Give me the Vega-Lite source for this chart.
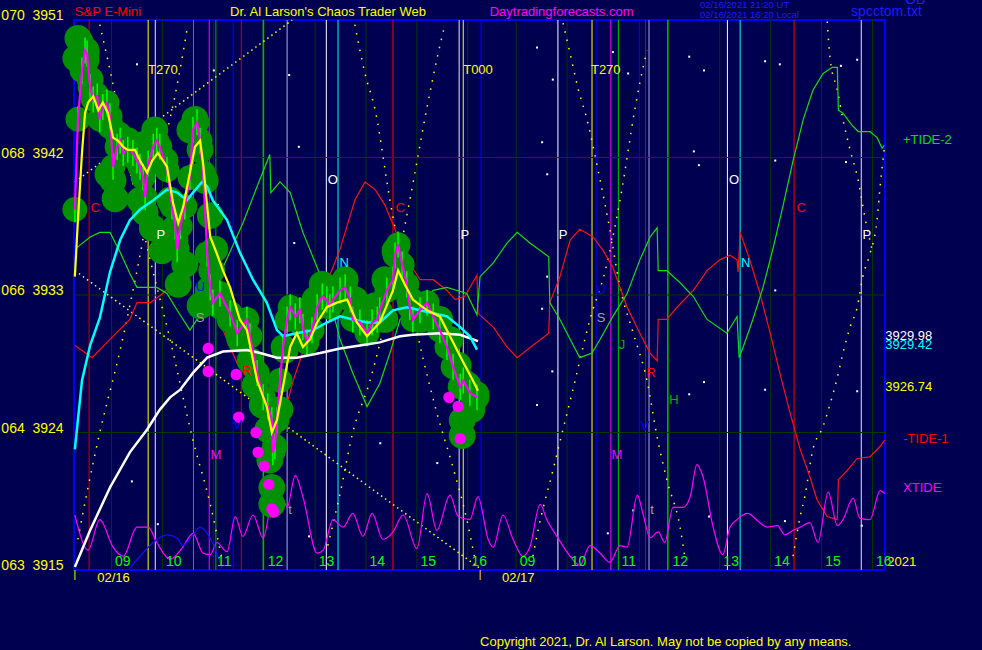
{
"$schema":"https://vega.github.io/schema/vega-lite/v6.json",
"width":811,"height":550,"autosize":{"type":"none"},
"padding":{"left":74,"top":20,"right":97,"bottom":80},
"background":"#000050",
"config":{"view":{"stroke":"#0000ff","strokeWidth":2},"font":"Liberation Sans"},
"datasets":{
"vlines":[{"t":9,"k":"hr"},{"t":10,"k":"hr"},{"t":11,"k":"hr"},{"t":12,"k":"hr"},{"t":13,"k":"hr"},{"t":14,"k":"hr"},{"t":15,"k":"hr"},{"t":16,"k":"hr"},{"t":16.95,"k":"hr"},{"t":17.95,"k":"hr"},{"t":18.95,"k":"hr"},{"t":19.95,"k":"hr"},{"t":20.95,"k":"hr"},{"t":21.95,"k":"hr"},{"t":22.95,"k":"hr"},{"t":23.95,"k":"hr"},
{"t":8.56,"k":"dkred"},{"t":9.72,"k":"yellow"},{"t":9.86,"k":"lav2"},{"t":10.61,"k":"ltblue"},{"t":10.92,"k":"magenta"},{"t":11.05,"k":"green"},{"t":11.39,"k":"blue"},{"t":11.55,"k":"dkred"},{"t":11.98,"k":"brgreen"},{"t":12.45,"k":"lav"},{"t":13.22,"k":"white"},{"t":13.45,"k":"cyan"},{"t":14.53,"k":"red"},{"t":15.83,"k":"lav2"},{"t":15.91,"k":"yellow"},{"t":16.26,"k":"blue"},{"t":17.77,"k":"white"},{"t":18.44,"k":"yellow"},{"t":18.52,"k":"blue"},{"t":18.81,"k":"magenta"},{"t":18.96,"k":"green"},{"t":19.37,"k":"blue"},{"t":19.49,"k":"dkred"},{"t":19.56,"k":"lav"},{"t":19.93,"k":"brgreen"},{"t":21.10,"k":"white"},{"t":21.35,"k":"cyan"},{"t":22.41,"k":"red"},{"t":23.73,"k":"lav2"}],
"hlines":[{"p":3942},{"p":3933},{"p":3924}],
"leftlab":[{"p":3951,"txt":"070\u00a0\u00a03951"},{"p":3942,"txt":"068\u00a0\u00a03942"},{"p":3933,"txt":"066\u00a0\u00a03933"},{"p":3924,"txt":"064\u00a0\u00a03924"},{"p":3915,"txt":"063\u00a0\u00a03915"}],
"diag":[{"id":"a","t":8.28,"p":3940.4},{"id":"a","t":12.55,"p":3951.0},{"id":"b","t":8.28,"p":3934.6},{"id":"b","t":16.24,"p":3915.1}],
"arcs":[
{"id":"c1","t":8.77,"p":3950.7},{"id":"c1","t":9.01,"p":3947.1},{"id":"c1","t":9.36,"p":3941.2},{"id":"c1","t":9.76,"p":3935.3},{"id":"c1","t":10.15,"p":3930.1},{"id":"c1","t":10.60,"p":3923.5},{"id":"c1","t":10.94,"p":3919.3},{"id":"c1","t":11.17,"p":3915.7},
{"id":"c2","t":10.50,"p":3950.7},{"id":"c2","t":10.31,"p":3947.1},{"id":"c2","t":10.05,"p":3943.1},{"id":"c2","t":9.76,"p":3939.2},{"id":"c2","t":9.56,"p":3935.6},{"id":"c2","t":9.17,"p":3929.4},{"id":"c2","t":8.77,"p":3924.0},{"id":"c2","t":8.52,"p":3920.1},{"id":"c2","t":8.34,"p":3917.0},
{"id":"c3","t":13.78,"p":3950.7},{"id":"c3","t":13.98,"p":3947.5},{"id":"c3","t":14.18,"p":3945.1},{"id":"c3","t":14.47,"p":3939.2},{"id":"c3","t":14.86,"p":3932.7},{"id":"c3","t":15.39,"p":3925.3},{"id":"c3","t":15.71,"p":3921.7},{"id":"c3","t":15.98,"p":3918.3},{"id":"c3","t":16.14,"p":3915.7},
{"id":"c4","t":15.55,"p":3950.7},{"id":"c4","t":15.39,"p":3948.4},{"id":"c4","t":15.20,"p":3945.3},{"id":"c4","t":14.86,"p":3939.2},{"id":"c4","t":14.47,"p":3932.7},{"id":"c4","t":14.08,"p":3927.4},{"id":"c4","t":13.74,"p":3924.0},{"id":"c4","t":13.49,"p":3920.0},{"id":"c4","t":13.25,"p":3916.6},
{"id":"c5","t":17.87,"p":3950.8},{"id":"c5","t":18.01,"p":3948.8},{"id":"c5","t":18.16,"p":3946.6},{"id":"c5","t":18.34,"p":3944.5},{"id":"c5","t":18.60,"p":3940.5},{"id":"c5","t":18.79,"p":3937.3},{"id":"c5","t":18.99,"p":3933.5},{"id":"c5","t":19.25,"p":3930.5},{"id":"c5","t":19.52,"p":3927.4},{"id":"c5","t":19.72,"p":3923.7},{"id":"c5","t":19.91,"p":3920.9},{"id":"c5","t":20.17,"p":3917.8},{"id":"c5","t":20.27,"p":3915.7},
{"id":"c6","t":19.52,"p":3949.0},{"id":"c6","t":19.38,"p":3946.9},{"id":"c6","t":19.29,"p":3945.3},{"id":"c6","t":18.99,"p":3939.2},{"id":"c6","t":18.70,"p":3934.6},{"id":"c6","t":18.40,"p":3931.4},{"id":"c6","t":18.05,"p":3926.6},{"id":"c6","t":17.87,"p":3924.2},{"id":"c6","t":17.67,"p":3921.5},{"id":"c6","t":17.38,"p":3917.6},{"id":"c6","t":17.28,"p":3915.9},
{"id":"c7","t":24.19,"p":3942.8},{"id":"c7","t":24.10,"p":3940.1},{"id":"c7","t":24.04,"p":3937.9},{"id":"c7","t":23.90,"p":3935.7},{"id":"c7","t":23.76,"p":3934.2},{"id":"c7","t":23.65,"p":3932.2},{"id":"c7","t":23.51,"p":3930.9},{"id":"c7","t":23.37,"p":3929.2},{"id":"c7","t":23.26,"p":3927.6},{"id":"c7","t":23.12,"p":3925.9},{"id":"c7","t":22.98,"p":3924.4},{"id":"c7","t":22.78,"p":3922.9},{"id":"c7","t":22.62,"p":3919.8},{"id":"c7","t":22.53,"p":3918.5},{"id":"c7","t":22.39,"p":3915.9},
{"id":"c8","t":23.06,"p":3950.9},{"id":"c8","t":23.12,"p":3948.4},{"id":"c8","t":23.26,"p":3946.4},{"id":"c8","t":23.37,"p":3944.5},{"id":"c8","t":23.51,"p":3942.5},{"id":"c8","t":23.67,"p":3940.5},{"id":"c8","t":23.80,"p":3938.1},{"id":"c8","t":23.94,"p":3936.0}],
"red":[{"t":8.28,"p":3929.7},{"t":8.62,"p":3928.9},{"t":8.97,"p":3930.1},{"t":9.36,"p":3931.4},{"t":9.50,"p":3932.5},{"t":9.76,"p":3932.5},{"t":10.01,"p":3933.1},{"t":10.29,"p":3934.0},{"t":10.54,"p":3934.8},{"t":10.70,"p":3935.8},{"t":10.80,"p":3935.7},{"t":10.94,"p":3934.4},{"t":11.07,"p":3933.3},{"t":11.19,"p":3930.7},{"t":11.47,"p":3928.5},{"t":11.66,"p":3927.6},{"t":11.92,"p":3926.8},{"t":12.17,"p":3925.9},{"t":12.31,"p":3925.6},{"t":12.45,"p":3925.9},{"t":12.57,"p":3927.4},{"t":12.70,"p":3928.7},{"t":12.84,"p":3930.1},{"t":12.96,"p":3931.4},{"t":13.10,"p":3932.7},{"t":13.23,"p":3933.8},{"t":13.49,"p":3936.0},{"t":13.78,"p":3939.2},{"t":13.98,"p":3940.4},{"t":14.18,"p":3939.9},{"t":14.37,"p":3938.9},{"t":14.57,"p":3937.3},{"t":14.76,"p":3935.6},{"t":15.06,"p":3934.0},{"t":15.32,"p":3934.0},{"t":15.59,"p":3933.3},{"t":15.75,"p":3932.7},{"t":15.94,"p":3932.9},{"t":16.18,"p":3934.3},{"t":16.20,"p":3931.8},{"t":16.50,"p":3930.9},{"t":16.77,"p":3929.6},{"t":16.97,"p":3928.9},{"t":17.16,"p":3929.4},{"t":17.59,"p":3930.5},{"t":17.61,"p":3932.5},{"t":17.81,"p":3934.2},{"t":18.01,"p":3936.6},{"t":18.20,"p":3937.3},{"t":18.46,"p":3936.8},{"t":18.66,"p":3935.9},{"t":18.85,"p":3934.8},{"t":19.13,"p":3932.2},{"t":19.38,"p":3930.5},{"t":19.58,"p":3929.2},{"t":19.72,"p":3928.7},{"t":19.74,"p":3931.4},{"t":19.91,"p":3931.4},{"t":20.11,"p":3932.2},{"t":20.43,"p":3933.3},{"t":20.70,"p":3934.6},{"t":20.95,"p":3935.3},{"t":21.15,"p":3935.6},{"t":21.29,"p":3935.3},{"t":21.31,"p":3934.5},{"t":21.35,"p":3937.1},{"t":21.54,"p":3935.3},{"t":21.74,"p":3933.1},{"t":21.94,"p":3930.5},{"t":22.13,"p":3927.9},{"t":22.33,"p":3925.3},{"t":22.53,"p":3922.9},{"t":22.72,"p":3921.1},{"t":22.86,"p":3919.6},{"t":23.06,"p":3918.5},{"t":23.26,"p":3918.3},{"t":23.28,"p":3920.9},{"t":23.45,"p":3921.5},{"t":23.65,"p":3922.3},{"t":23.90,"p":3922.4},{"t":24.10,"p":3923.1},{"t":24.19,"p":3923.5}],
"green":[{"t":8.32,"p":3936.1},{"t":8.58,"p":3936.8},{"t":8.77,"p":3937.1},{"t":8.97,"p":3937.1},{"t":9.17,"p":3935.8},{"t":9.36,"p":3934.4},{"t":9.50,"p":3933.5},{"t":9.70,"p":3933.5},{"t":9.89,"p":3933.5},{"t":10.09,"p":3933.1},{"t":10.29,"p":3932.0},{"t":10.54,"p":3930.7},{"t":10.74,"p":3931.7},{"t":10.99,"p":3933.5},{"t":11.19,"p":3934.8},{"t":11.58,"p":3937.7},{"t":11.86,"p":3940.1},{"t":12.11,"p":3942.2},{"t":12.13,"p":3939.7},{"t":12.31,"p":3940.4},{"t":12.51,"p":3939.7},{"t":12.76,"p":3937.1},{"t":13.04,"p":3934.8},{"t":13.29,"p":3932.7},{"t":13.49,"p":3930.1},{"t":13.74,"p":3927.9},{"t":14.02,"p":3925.7},{"t":14.27,"p":3927.2},{"t":14.47,"p":3929.2},{"t":14.67,"p":3931.4},{"t":14.92,"p":3932.2},{"t":15.32,"p":3933.3},{"t":15.59,"p":3933.5},{"t":15.98,"p":3933.1},{"t":16.18,"p":3931.7},{"t":16.24,"p":3934.2},{"t":16.50,"p":3935.1},{"t":16.77,"p":3936.4},{"t":16.97,"p":3937.1},{"t":17.22,"p":3936.4},{"t":17.59,"p":3935.5},{"t":17.61,"p":3932.5},{"t":17.81,"p":3931.4},{"t":18.01,"p":3930.1},{"t":18.20,"p":3928.9},{"t":18.44,"p":3929.2},{"t":18.60,"p":3930.1},{"t":18.85,"p":3931.6},{"t":19.13,"p":3933.1},{"t":19.38,"p":3935.3},{"t":19.58,"p":3936.8},{"t":19.72,"p":3937.4},{"t":19.74,"p":3934.6},{"t":19.91,"p":3934.6},{"t":20.17,"p":3933.8},{"t":20.43,"p":3932.9},{"t":20.70,"p":3931.4},{"t":21.09,"p":3930.5},{"t":21.29,"p":3931.6},{"t":21.33,"p":3928.9},{"t":21.41,"p":3929.6},{"t":21.60,"p":3931.4},{"t":21.80,"p":3933.5},{"t":22.00,"p":3936.1},{"t":22.19,"p":3938.8},{"t":22.39,"p":3941.8},{"t":22.59,"p":3944.5},{"t":22.78,"p":3946.4},{"t":22.98,"p":3947.5},{"t":23.16,"p":3947.9},{"t":23.26,"p":3947.9},{"t":23.27,"p":3946.4},{"t":23.28,"p":3945.1},{"t":23.37,"p":3944.9},{"t":23.55,"p":3944.1},{"t":23.67,"p":3943.7},{"t":23.90,"p":3943.7},{"t":24.04,"p":3943.3},{"t":24.14,"p":3942.6},{"t":24.18,"p":3942.8}],
"xtide":[{"t":8.28,"p":3918.6},{"t":8.54,"p":3916.3},{"t":8.77,"p":3918.3},{"t":9.03,"p":3916.5},{"t":9.23,"p":3915.9},{"t":9.50,"p":3917.8},{"t":9.72,"p":3917.8},{"t":9.89,"p":3916.8},{"t":10.15,"p":3915.7},{"t":10.40,"p":3916.5},{"t":10.60,"p":3917.4},{"t":10.80,"p":3916.1},{"t":10.94,"p":3916.0},{"t":11.07,"p":3916.8},{"t":11.27,"p":3916.2},{"t":11.43,"p":3918.5},{"t":11.58,"p":3917.2},{"t":11.78,"p":3918.6},{"t":11.98,"p":3917.1},{"t":12.17,"p":3919.7},{"t":12.37,"p":3919.6},{"t":12.45,"p":3919.1},{"t":12.61,"p":3921.2},{"t":12.76,"p":3919.8},{"t":13.04,"p":3916.1},{"t":13.16,"p":3916.3},{"t":13.35,"p":3918.3},{"t":13.55,"p":3917.8},{"t":13.74,"p":3918.7},{"t":13.94,"p":3917.2},{"t":14.12,"p":3918.7},{"t":14.33,"p":3917.0},{"t":14.53,"p":3917.5},{"t":14.73,"p":3918.6},{"t":15.00,"p":3916.4},{"t":15.20,"p":3920.0},{"t":15.39,"p":3917.6},{"t":15.65,"p":3919.9},{"t":15.81,"p":3918.5},{"t":16.04,"p":3918.3},{"t":16.20,"p":3919.8},{"t":16.40,"p":3917.0},{"t":16.50,"p":3916.5},{"t":16.69,"p":3918.6},{"t":16.89,"p":3917.0},{"t":17.08,"p":3915.9},{"t":17.22,"p":3916.5},{"t":17.42,"p":3919.3},{"t":17.55,"p":3918.3},{"t":17.75,"p":3917.2},{"t":18.01,"p":3915.9},{"t":18.20,"p":3915.3},{"t":18.40,"p":3916.6},{"t":18.60,"p":3916.1},{"t":18.79,"p":3915.5},{"t":18.99,"p":3916.6},{"t":19.13,"p":3916.5},{"t":19.33,"p":3919.9},{"t":19.44,"p":3918.7},{"t":19.58,"p":3917.1},{"t":19.74,"p":3917.5},{"t":19.87,"p":3916.8},{"t":20.03,"p":3919.1},{"t":20.23,"p":3919.1},{"t":20.37,"p":3919.8},{"t":20.50,"p":3921.9},{"t":20.62,"p":3921.1},{"t":20.82,"p":3917.8},{"t":21.01,"p":3916.0},{"t":21.15,"p":3917.8},{"t":21.29,"p":3918.3},{"t":21.49,"p":3918.7},{"t":21.74,"p":3918.1},{"t":21.88,"p":3917.8},{"t":22.08,"p":3917.9},{"t":22.23,"p":3917.3},{"t":22.39,"p":3917.6},{"t":22.53,"p":3917.8},{"t":22.72,"p":3918.1},{"t":22.88,"p":3916.8},{"t":23.08,"p":3920.1},{"t":23.26,"p":3917.9},{"t":23.37,"p":3918.3},{"t":23.57,"p":3919.7},{"t":23.70,"p":3918.4},{"t":23.90,"p":3918.3},{"t":24.10,"p":3920.2},{"t":24.19,"p":3920.0}],
"blue":[{"t":9.36,"p":3915.1},{"t":9.56,"p":3915.9},{"t":9.82,"p":3916.8},{"t":10.09,"p":3917.3},{"t":10.29,"p":3917.1},{"t":10.40,"p":3916.6},{"t":10.60,"p":3917.3},{"t":10.74,"p":3917.8},{"t":10.88,"p":3917.4},{"t":11.07,"p":3916.1},{"t":11.17,"p":3915.1}],
"blobs":[{"t":8.34,"p":3949.8},{"t":8.50,"p":3949.0},{"t":8.30,"p":3948.5},{"t":8.38,"p":3949.6},{"t":8.50,"p":3948.4},{"t":8.58,"p":3947.1},{"t":8.68,"p":3946.1},{"t":8.83,"p":3945.1},{"t":8.97,"p":3944.1},{"t":9.03,"p":3940.5},{"t":8.93,"p":3940.9},{"t":9.07,"p":3939.3},{"t":9.13,"p":3943.5},{"t":9.32,"p":3943.1},{"t":9.56,"p":3942.8},{"t":9.56,"p":3939.2},{"t":9.66,"p":3938.4},{"t":9.80,"p":3937.4},{"t":9.99,"p":3935.9},{"t":9.76,"p":3943.1},{"t":9.85,"p":3943.8},{"t":10.05,"p":3941.8},{"t":10.15,"p":3939.2},{"t":10.25,"p":3936.6},{"t":10.44,"p":3935.0},{"t":10.31,"p":3933.7},{"t":10.54,"p":3943.8},{"t":10.64,"p":3944.5},{"t":10.74,"p":3942.5},{"t":10.84,"p":3940.5},{"t":10.94,"p":3938.2},{"t":11.03,"p":3936.0},{"t":10.97,"p":3934.6},{"t":10.74,"p":3932.3},{"t":10.90,"p":3933.3},{"t":11.13,"p":3932.3},{"t":11.33,"p":3931.4},{"t":11.52,"p":3930.1},{"t":11.72,"p":3928.7},{"t":11.82,"p":3927.1},{"t":11.96,"p":3925.8},{"t":12.07,"p":3924.2},{"t":12.11,"p":3922.2},{"t":12.15,"p":3920.4},{"t":12.15,"p":3919.3},{"t":12.31,"p":3925.5},{"t":12.41,"p":3929.4},{"t":12.57,"p":3931.7},{"t":12.80,"p":3931.4},{"t":13.00,"p":3932.7},{"t":13.14,"p":3933.7},{"t":13.33,"p":3932.7},{"t":13.59,"p":3934.0},{"t":13.78,"p":3932.7},{"t":13.98,"p":3931.4},{"t":14.18,"p":3932.3},{"t":14.37,"p":3934.0},{"t":14.37,"p":3931.4},{"t":14.57,"p":3935.9},{"t":14.67,"p":3934.3},{"t":14.86,"p":3932.7},{"t":15.06,"p":3931.4},{"t":15.16,"p":3932.3},{"t":15.45,"p":3931.4},{"t":15.65,"p":3930.1},{"t":15.81,"p":3928.4},{"t":16.00,"p":3927.1},{"t":16.16,"p":3926.5},{"t":16.08,"p":3925.5},{"t":15.89,"p":3924.8},{"t":15.89,"p":3923.8}],
"price":[{"t":8.28,"p":3938.6},{"t":8.34,"p":3944.5},{"t":8.42,"p":3947.7},{"t":8.48,"p":3949.0},{"t":8.52,"p":3948.8},{"t":8.58,"p":3946.6},{"t":8.64,"p":3945.8},{"t":8.72,"p":3946.0},{"t":8.77,"p":3944.5},{"t":8.83,"p":3945.3},{"t":8.91,"p":3945.6},{"t":8.97,"p":3944.7},{"t":9.03,"p":3941.4},{"t":9.11,"p":3942.7},{"t":9.17,"p":3943.1},{"t":9.23,"p":3942.3},{"t":9.32,"p":3942.5},{"t":9.42,"p":3942.3},{"t":9.50,"p":3941.8},{"t":9.56,"p":3941.4},{"t":9.62,"p":3940.7},{"t":9.66,"p":3939.4},{"t":9.72,"p":3941.6},{"t":9.82,"p":3942.7},{"t":9.89,"p":3943.1},{"t":9.95,"p":3942.7},{"t":10.09,"p":3941.2},{"t":10.19,"p":3938.8},{"t":10.25,"p":3937.5},{"t":10.29,"p":3936.0},{"t":10.35,"p":3937.5},{"t":10.44,"p":3938.8},{"t":10.54,"p":3940.7},{"t":10.60,"p":3943.8},{"t":10.68,"p":3944.3},{"t":10.74,"p":3943.1},{"t":10.80,"p":3941.0},{"t":10.88,"p":3935.7},{"t":10.94,"p":3933.5},{"t":10.99,"p":3932.5},{"t":11.13,"p":3933.1},{"t":11.33,"p":3931.8},{"t":11.47,"p":3930.5},{"t":11.66,"p":3931.4},{"t":11.72,"p":3930.3},{"t":11.86,"p":3927.9},{"t":11.98,"p":3926.3},{"t":12.07,"p":3925.7},{"t":12.15,"p":3924.8},{"t":12.17,"p":3922.7},{"t":12.21,"p":3923.1},{"t":12.25,"p":3924.8},{"t":12.31,"p":3927.4},{"t":12.37,"p":3929.6},{"t":12.45,"p":3931.4},{"t":12.51,"p":3932.2},{"t":12.61,"p":3931.6},{"t":12.70,"p":3932.0},{"t":12.76,"p":3930.9},{"t":12.84,"p":3929.9},{"t":12.94,"p":3930.7},{"t":13.04,"p":3932.2},{"t":13.14,"p":3932.9},{"t":13.23,"p":3932.7},{"t":13.29,"p":3932.2},{"t":13.35,"p":3932.7},{"t":13.49,"p":3933.3},{"t":13.59,"p":3933.5},{"t":13.69,"p":3932.7},{"t":13.74,"p":3931.4},{"t":13.88,"p":3931.2},{"t":14.02,"p":3930.5},{"t":14.12,"p":3931.2},{"t":14.22,"p":3931.4},{"t":14.27,"p":3932.0},{"t":14.41,"p":3933.3},{"t":14.53,"p":3934.0},{"t":14.57,"p":3935.6},{"t":14.63,"p":3936.3},{"t":14.71,"p":3935.0},{"t":14.80,"p":3933.7},{"t":14.86,"p":3932.2},{"t":14.92,"p":3931.4},{"t":15.06,"p":3932.0},{"t":15.20,"p":3932.5},{"t":15.32,"p":3931.6},{"t":15.45,"p":3930.7},{"t":15.59,"p":3929.6},{"t":15.71,"p":3928.3},{"t":15.85,"p":3927.0},{"t":15.91,"p":3927.4},{"t":16.04,"p":3926.6},{"t":16.18,"p":3926.3}],
"yel":[{"t":8.28,"p":3934.2},{"t":8.34,"p":3937.9},{"t":8.42,"p":3942.3},{"t":8.48,"p":3944.9},{"t":8.54,"p":3945.6},{"t":8.64,"p":3946.0},{"t":8.74,"p":3945.1},{"t":8.83,"p":3945.6},{"t":8.93,"p":3944.9},{"t":9.03,"p":3943.3},{"t":9.13,"p":3943.1},{"t":9.23,"p":3942.7},{"t":9.32,"p":3942.5},{"t":9.46,"p":3942.5},{"t":9.56,"p":3941.8},{"t":9.70,"p":3941.0},{"t":9.80,"p":3941.8},{"t":9.91,"p":3942.3},{"t":10.09,"p":3941.4},{"t":10.21,"p":3939.0},{"t":10.31,"p":3937.7},{"t":10.41,"p":3938.8},{"t":10.54,"p":3941.0},{"t":10.64,"p":3942.7},{"t":10.74,"p":3943.1},{"t":10.80,"p":3941.6},{"t":10.88,"p":3938.8},{"t":10.94,"p":3936.8},{"t":11.07,"p":3935.7},{"t":11.19,"p":3934.6},{"t":11.33,"p":3933.5},{"t":11.52,"p":3931.4},{"t":11.66,"p":3930.7},{"t":11.86,"p":3927.4},{"t":12.05,"p":3925.7},{"t":12.15,"p":3924.0},{"t":12.25,"p":3924.8},{"t":12.37,"p":3927.0},{"t":12.51,"p":3929.6},{"t":12.64,"p":3930.5},{"t":12.76,"p":3929.6},{"t":12.90,"p":3930.1},{"t":13.04,"p":3931.2},{"t":13.23,"p":3932.2},{"t":13.43,"p":3932.5},{"t":13.63,"p":3932.7},{"t":13.82,"p":3931.2},{"t":14.02,"p":3930.3},{"t":14.27,"p":3931.2},{"t":14.53,"p":3933.3},{"t":14.63,"p":3934.6},{"t":14.76,"p":3933.7},{"t":14.92,"p":3932.7},{"t":15.20,"p":3932.0},{"t":15.45,"p":3931.6},{"t":15.71,"p":3929.9},{"t":15.91,"p":3928.6},{"t":16.10,"p":3927.4},{"t":16.20,"p":3926.74}],
"cyan":[{"t":8.28,"p":3922.9},{"t":8.42,"p":3927.4},{"t":8.58,"p":3929.7},{"t":8.77,"p":3931.5},{"t":8.97,"p":3934.5},{"t":9.17,"p":3936.6},{"t":9.36,"p":3937.9},{"t":9.56,"p":3938.6},{"t":9.82,"p":3939.2},{"t":10.09,"p":3939.9},{"t":10.29,"p":3939.7},{"t":10.48,"p":3939.2},{"t":10.60,"p":3939.7},{"t":10.78,"p":3940.4},{"t":10.88,"p":3940.1},{"t":10.99,"p":3939.2},{"t":11.27,"p":3937.9},{"t":11.52,"p":3935.8},{"t":11.78,"p":3934.0},{"t":12.05,"p":3932.5},{"t":12.25,"p":3930.7},{"t":12.37,"p":3930.3},{"t":12.64,"p":3930.5},{"t":12.96,"p":3930.7},{"t":13.23,"p":3931.2},{"t":13.49,"p":3931.6},{"t":13.74,"p":3931.4},{"t":14.02,"p":3931.2},{"t":14.27,"p":3931.2},{"t":14.53,"p":3932.0},{"t":14.80,"p":3932.2},{"t":15.06,"p":3932.0},{"t":15.32,"p":3931.8},{"t":15.59,"p":3931.6},{"t":15.85,"p":3930.9},{"t":16.04,"p":3930.3},{"t":16.18,"p":3929.42}],
"white":[{"t":8.28,"p":3915.2},{"t":8.58,"p":3917.6},{"t":8.97,"p":3920.4},{"t":9.36,"p":3922.7},{"t":9.70,"p":3924.2},{"t":9.95,"p":3925.5},{"t":10.15,"p":3926.3},{"t":10.35,"p":3926.8},{"t":10.60,"p":3927.9},{"t":10.88,"p":3928.9},{"t":11.19,"p":3929.3},{"t":11.66,"p":3929.4},{"t":11.92,"p":3929.2},{"t":12.25,"p":3928.9},{"t":12.64,"p":3928.9},{"t":13.10,"p":3929.2},{"t":13.49,"p":3929.5},{"t":13.88,"p":3929.7},{"t":14.27,"p":3929.9},{"t":14.67,"p":3930.3},{"t":14.92,"p":3930.4},{"t":15.45,"p":3930.5},{"t":15.85,"p":3930.4},{"t":16.20,"p":3929.98}],
"mdots":[{"t":10.90,"p":3929.5},{"t":10.90,"p":3928.0},{"t":11.45,"p":3927.8},{"t":11.50,"p":3925.0},{"t":11.84,"p":3924.0},{"t":11.88,"p":3922.7},{"t":12.00,"p":3921.8},{"t":12.09,"p":3920.6},{"t":12.15,"p":3919.0},{"t":12.19,"p":3918.8},{"t":15.63,"p":3926.3},{"t":15.81,"p":3925.7},{"t":15.85,"p":3923.6}],
"wdots":[{"t":9.50,"p":3948.1},{"t":11.01,"p":3947.7},{"t":12.49,"p":3947.4},{"t":12.68,"p":3942.7},{"t":11.09,"p":3938.9},{"t":12.59,"p":3936.4},{"t":17.36,"p":3949.2},{"t":17.67,"p":3947.1},{"t":18.85,"p":3948.9},{"t":19.15,"p":3947.5},{"t":20.35,"p":3948.6},{"t":20.64,"p":3947.7},{"t":21.84,"p":3948.3},{"t":22.13,"p":3948.1},{"t":23.33,"p":3948.0},{"t":23.65,"p":3948.4},{"t":20.44,"p":3942.4},{"t":20.54,"p":3941.5},{"t":22.04,"p":3941.8},{"t":23.43,"p":3941.7},{"t":17.46,"p":3943.0},{"t":17.56,"p":3940.9},{"t":17.56,"p":3934.2},{"t":17.46,"p":3932.1},{"t":17.66,"p":3928.0},{"t":17.36,"p":3925.8},{"t":20.35,"p":3926.5},{"t":20.64,"p":3927.3},{"t":21.84,"p":3926.8},{"t":22.04,"p":3933.3},{"t":23.65,"p":3926.7},{"t":14.28,"p":3923.3},{"t":15.40,"p":3922.0},{"t":9.40,"p":3920.8},{"t":9.91,"p":3918.0},{"t":12.88,"p":3917.2},{"t":18.75,"p":3917.4},{"t":20.74,"p":3918.5},{"t":22.23,"p":3918.2},{"t":23.74,"p":3917.9},{"t":19.25,"p":3918.9}],
"letters":[{"t":10.01,"p":3947.7,"txt":"T270","k":"yellow"},{"t":16.20,"p":3947.7,"txt":"T000","k":"yellow"},{"t":18.71,"p":3947.7,"txt":"T270","k":"yellow"},{"t":8.68,"p":3938.7,"txt":"C","k":"red"},{"t":14.67,"p":3938.7,"txt":"C","k":"red"},{"t":22.55,"p":3938.7,"txt":"C","k":"red"},{"t":9.97,"p":3936.9,"txt":"P","k":"white"},{"t":15.94,"p":3936.9,"txt":"P","k":"white"},{"t":17.87,"p":3936.9,"txt":"P","k":"white"},{"t":23.84,"p":3936.9,"txt":"P","k":"white"},{"t":13.35,"p":3940.5,"txt":"O","k":"white"},{"t":21.23,"p":3940.5,"txt":"O","k":"white"},{"t":10.74,"p":3933.5,"txt":"U","k":"blue"},{"t":18.62,"p":3933.3,"txt":"U","k":"blue"},{"t":10.74,"p":3931.5,"txt":"S","k":"grey"},{"t":18.62,"p":3931.5,"txt":"S","k":"grey"},{"t":11.05,"p":3922.5,"txt":"M","k":"magenta"},{"t":18.93,"p":3922.5,"txt":"M","k":"magenta"},{"t":11.66,"p":3928.0,"txt":"R","k":"red"},{"t":19.60,"p":3927.9,"txt":"R","k":"red"},{"t":11.47,"p":3924.5,"txt":"V","k":"blue"},{"t":19.48,"p":3924.4,"txt":"V","k":"blue"},{"t":12.51,"p":3918.9,"txt":"t","k":"grey"},{"t":19.62,"p":3918.9,"txt":"t","k":"grey"},{"t":13.57,"p":3935.1,"txt":"N","k":"cyan"},{"t":21.46,"p":3935.1,"txt":"N","k":"cyan"},{"t":19.03,"p":3929.7,"txt":"J","k":"green"},{"t":20.05,"p":3926.1,"txt":"H","k":"green"}],
"sidetext":[{"t":24.55,"p":3943.15,"txt":"+TIDE-2","k":"txtgreen"},{"t":24.20,"p":3930.3,"txt":"3929.98","k":"white"},{"t":24.20,"p":3929.7,"txt":"3929.42","k":"cyan"},{"t":24.20,"p":3927.0,"txt":"3926.74","k":"yellow"},{"t":24.55,"p":3923.6,"txt":"-TIDE-1","k":"red"},{"t":24.55,"p":3920.4,"txt":"XTIDE","k":"magenta"},{"t":24.24,"p":3915.5,"txt":"2021","k":"yellow"},
{"t":8.28,"p":3951.52,"txt":"S&P E-Mini","k":"red"},{"t":11.33,"p":3951.52,"txt":"Dr. Al Larson's Chaos Trader Web","k":"yellow"},{"t":16.43,"p":3951.52,"txt":"Daytradingforecasts.com","k":"magenta"},{"t":16.24,"p":3910.3,"txt":"Copyright 2021, Dr. Al Larson. May not be copied by any means.","k":"yellow"},{"t":8.72,"p":3914.5,"txt":"02/16","k":"yellow"},{"t":16.67,"p":3914.5,"txt":"02/17","k":"yellow"}],
"bluetext":[{"t":23.53,"p":3951.52,"txt":"spcctom.txt"},{"t":24.59,"p":3952.3,"txt":"OB"}],
"smalltext":[{"t":20.56,"p":3951.98,"txt":"02/16/2021 21:20 UT"},{"t":20.56,"p":3951.33,"txt":"02/16/2021 16:20 Local"}],
"hours":[{"t":9.07,"txt":"09"},{"t":10.07,"txt":"10"},{"t":11.07,"txt":"11"},{"t":12.07,"txt":"12"},{"t":13.07,"txt":"13"},{"t":14.07,"txt":"14"},{"t":15.07,"txt":"15"},{"t":16.07,"txt":"16"},{"t":17.02,"txt":"09"},{"t":18.02,"txt":"10"},{"t":19.02,"txt":"11"},{"t":20.02,"txt":"12"},{"t":21.02,"txt":"13"},{"t":22.02,"txt":"14"},{"t":23.02,"txt":"15"},{"t":24.02,"txt":"16"}],
"dayticks":[{"t":8.28},{"t":16.24}]
},
"layer":[
{"data":{"name":"vlines"},"mark":{"type":"rule","strokeWidth":1},"encoding":{"x":{"field":"t","type":"quantitative","scale":{"domain":[8.263,24.196],"nice":false,"zero":false},"axis":null},"color":{"field":"k","type":"nominal","legend":null,"scale":{"domain":["hr","yellow","white","lav","lav2","ltblue","magenta","green","brgreen","blue","red","cyan","grey","dkred","txtgreen"],"range":["#003800","#ffff00","#ffffff","#a8a8e0","#e0e0ff","#6060ff","#ff00ff","#00b000","#00ff00","#0000ff","#ff0000","#00ffff","#a0a0a0","#c80000","#00e000"]}}}},
{"data":{"name":"hlines"},"mark":{"type":"rule","color":"#003800"},"encoding":{"y":{"field":"p","type":"quantitative","title":null,"scale":{"domain":[3915,3951],"nice":false,"zero":false},"axis":null}}},
{"data":{"name":"leftlab"},"mark":{"type":"text","font":"Liberation Sans","fontSize":14,"align":"right","baseline":"alphabetic","color":"#ffff00"},"encoding":{"x":{"datum":8.06,"type":"quantitative","scale":{"domain":[8.263,24.196],"nice":false,"zero":false},"axis":null},"y":{"field":"p","type":"quantitative","title":null,"scale":{"domain":[3915,3951],"nice":false,"zero":false},"axis":null},"text":{"field":"txt"}}},
{"data":{"name":"diag"},"mark":{"type":"line","color":"#ffff00","strokeWidth":1.5,"strokeDash":[1.5,3.5]},"encoding":{"x":{"field":"t","type":"quantitative","scale":{"domain":[8.263,24.196],"nice":false,"zero":false},"axis":null},"y":{"field":"p","type":"quantitative","title":null,"scale":{"domain":[3915,3951],"nice":false,"zero":false},"axis":null},"detail":{"field":"id"}}},
{"data":{"name":"arcs"},"mark":{"type":"line","color":"#ffff00","strokeWidth":1.5,"strokeDash":[1.5,7],"interpolate":"monotone"},"encoding":{"x":{"field":"t","type":"quantitative","scale":{"domain":[8.263,24.196],"nice":false,"zero":false},"axis":null},"y":{"field":"p","type":"quantitative","title":null,"scale":{"domain":[3915,3951],"nice":false,"zero":false},"axis":null},"detail":{"field":"id"}}},
{"data":{"name":"wdots"},"mark":{"type":"square","color":"#ffffff","size":4,"opacity":1},"encoding":{"x":{"field":"t","type":"quantitative","scale":{"domain":[8.263,24.196],"nice":false,"zero":false},"axis":null},"y":{"field":"p","type":"quantitative","title":null,"scale":{"domain":[3915,3951],"nice":false,"zero":false},"axis":null}}},
{"data":{"name":"red"},"mark":{"type":"line","color":"#ff1010","strokeWidth":1.2},"encoding":{"x":{"field":"t","type":"quantitative","scale":{"domain":[8.263,24.196],"nice":false,"zero":false},"axis":null},"y":{"field":"p","type":"quantitative","title":null,"scale":{"domain":[3915,3951],"nice":false,"zero":false},"axis":null}}},
{"data":{"name":"green"},"mark":{"type":"line","color":"#10e010","strokeWidth":1.2},"encoding":{"x":{"field":"t","type":"quantitative","scale":{"domain":[8.263,24.196],"nice":false,"zero":false},"axis":null},"y":{"field":"p","type":"quantitative","title":null,"scale":{"domain":[3915,3951],"nice":false,"zero":false},"axis":null}}},
{"data":{"name":"xtide"},"mark":{"type":"line","color":"#ff00ff","strokeWidth":1.2,"interpolate":"monotone"},"encoding":{"x":{"field":"t","type":"quantitative","scale":{"domain":[8.263,24.196],"nice":false,"zero":false},"axis":null},"y":{"field":"p","type":"quantitative","title":null,"scale":{"domain":[3915,3951],"nice":false,"zero":false},"axis":null}}},
{"data":{"name":"blue"},"mark":{"type":"line","color":"#1010ff","strokeWidth":1.2,"interpolate":"monotone"},"encoding":{"x":{"field":"t","type":"quantitative","scale":{"domain":[8.263,24.196],"nice":false,"zero":false},"axis":null},"y":{"field":"p","type":"quantitative","title":null,"scale":{"domain":[3915,3951],"nice":false,"zero":false},"axis":null}}},
{"data":{"name":"blobs"},"mark":{"type":"circle","color":"#009000","size":720,"opacity":1},"encoding":{"x":{"field":"t","type":"quantitative","scale":{"domain":[8.263,24.196],"nice":false,"zero":false},"axis":null},"y":{"field":"p","type":"quantitative","title":null,"scale":{"domain":[3915,3951],"nice":false,"zero":false},"axis":null}}},
{"data":{"name":"price"},"mark":{"type":"circle","color":"#009000","size":620,"opacity":1},"encoding":{"x":{"field":"t","type":"quantitative","scale":{"domain":[8.263,24.196],"nice":false,"zero":false},"axis":null},"y":{"field":"p","type":"quantitative","title":null,"scale":{"domain":[3915,3951],"nice":false,"zero":false},"axis":null}}},
{"data":{"name":"price"},"mark":{"type":"tick","orient":"vertical","color":"#00ff00","size":26,"thickness":1.5,"opacity":1},"encoding":{"x":{"field":"t","type":"quantitative","scale":{"domain":[8.263,24.196],"nice":false,"zero":false},"axis":null},"y":{"field":"p","type":"quantitative","title":null,"scale":{"domain":[3915,3951],"nice":false,"zero":false},"axis":null}}},
{"data":{"name":"mdots"},"mark":{"type":"circle","color":"#ff00ff","size":130,"opacity":1},"encoding":{"x":{"field":"t","type":"quantitative","scale":{"domain":[8.263,24.196],"nice":false,"zero":false},"axis":null},"y":{"field":"p","type":"quantitative","title":null,"scale":{"domain":[3915,3951],"nice":false,"zero":false},"axis":null}}},
{"data":{"name":"white"},"mark":{"type":"line","color":"#ffffff","strokeWidth":2.5},"encoding":{"x":{"field":"t","type":"quantitative","scale":{"domain":[8.263,24.196],"nice":false,"zero":false},"axis":null},"y":{"field":"p","type":"quantitative","title":null,"scale":{"domain":[3915,3951],"nice":false,"zero":false},"axis":null}}},
{"data":{"name":"cyan"},"mark":{"type":"line","color":"#00ffff","strokeWidth":2.5},"encoding":{"x":{"field":"t","type":"quantitative","scale":{"domain":[8.263,24.196],"nice":false,"zero":false},"axis":null},"y":{"field":"p","type":"quantitative","title":null,"scale":{"domain":[3915,3951],"nice":false,"zero":false},"axis":null}}},
{"data":{"name":"price"},"mark":{"type":"line","color":"#ff00ff","strokeWidth":2.2},"encoding":{"x":{"field":"t","type":"quantitative","scale":{"domain":[8.263,24.196],"nice":false,"zero":false},"axis":null},"y":{"field":"p","type":"quantitative","title":null,"scale":{"domain":[3915,3951],"nice":false,"zero":false},"axis":null}}},
{"data":{"name":"yel"},"mark":{"type":"line","color":"#ffff00","strokeWidth":2.2},"encoding":{"x":{"field":"t","type":"quantitative","scale":{"domain":[8.263,24.196],"nice":false,"zero":false},"axis":null},"y":{"field":"p","type":"quantitative","title":null,"scale":{"domain":[3915,3951],"nice":false,"zero":false},"axis":null}}},
{"data":{"name":"letters"},"mark":{"type":"text","font":"Liberation Sans","fontSize":13,"align":"center","baseline":"middle"},"encoding":{"x":{"field":"t","type":"quantitative","scale":{"domain":[8.263,24.196],"nice":false,"zero":false},"axis":null},"y":{"field":"p","type":"quantitative","title":null,"scale":{"domain":[3915,3951],"nice":false,"zero":false},"axis":null},"text":{"field":"txt"},"color":{"field":"k","type":"nominal","legend":null,"scale":{"domain":["hr","yellow","white","lav","lav2","ltblue","magenta","green","brgreen","blue","red","cyan","grey","dkred","txtgreen"],"range":["#003800","#ffff00","#ffffff","#a8a8e0","#e0e0ff","#6060ff","#ff00ff","#00b000","#00ff00","#0000ff","#ff0000","#00ffff","#a0a0a0","#c80000","#00e000"]}}}},
{"data":{"name":"sidetext"},"mark":{"type":"text","font":"Liberation Sans","fontSize":13,"align":"left","baseline":"middle"},"encoding":{"x":{"field":"t","type":"quantitative","scale":{"domain":[8.263,24.196],"nice":false,"zero":false},"axis":null},"y":{"field":"p","type":"quantitative","title":null,"scale":{"domain":[3915,3951],"nice":false,"zero":false},"axis":null},"text":{"field":"txt"},"color":{"field":"k","type":"nominal","legend":null,"scale":{"domain":["hr","yellow","white","lav","lav2","ltblue","magenta","green","brgreen","blue","red","cyan","grey","dkred","txtgreen"],"range":["#003800","#ffff00","#ffffff","#a8a8e0","#e0e0ff","#6060ff","#ff00ff","#00b000","#00ff00","#0000ff","#ff0000","#00ffff","#a0a0a0","#c80000","#00e000"]}}}},
{"data":{"name":"bluetext"},"mark":{"type":"text","font":"Liberation Sans","fontSize":14,"align":"left","baseline":"middle","color":"#1c1cff"},"encoding":{"x":{"field":"t","type":"quantitative","scale":{"domain":[8.263,24.196],"nice":false,"zero":false},"axis":null},"y":{"field":"p","type":"quantitative","title":null,"scale":{"domain":[3915,3951],"nice":false,"zero":false},"axis":null},"text":{"field":"txt"}}},
{"data":{"name":"smalltext"},"mark":{"type":"text","font":"Liberation Sans","fontSize":9.5,"align":"left","baseline":"middle","color":"#1c1cff"},"encoding":{"x":{"field":"t","type":"quantitative","scale":{"domain":[8.263,24.196],"nice":false,"zero":false},"axis":null},"y":{"field":"p","type":"quantitative","title":null,"scale":{"domain":[3915,3951],"nice":false,"zero":false},"axis":null},"text":{"field":"txt"}}},
{"data":{"name":"hours"},"mark":{"type":"text","font":"Liberation Sans","fontSize":14,"align":"left","baseline":"middle","color":"#00ff00"},"encoding":{"x":{"field":"t","type":"quantitative","scale":{"domain":[8.263,24.196],"nice":false,"zero":false},"axis":null},"y":{"datum":3915.5,"type":"quantitative","title":null,"scale":{"domain":[3915,3951],"nice":false,"zero":false},"axis":null},"text":{"field":"txt"}}},
{"data":{"name":"dayticks"},"mark":{"type":"text","font":"Liberation Sans","fontSize":10,"align":"center","baseline":"middle","color":"#ffff00","text":"|"},"encoding":{"x":{"field":"t","type":"quantitative","scale":{"domain":[8.263,24.196],"nice":false,"zero":false},"axis":null},"y":{"datum":3914.7,"type":"quantitative","title":null,"scale":{"domain":[3915,3951],"nice":false,"zero":false},"axis":null}}}
]
}
